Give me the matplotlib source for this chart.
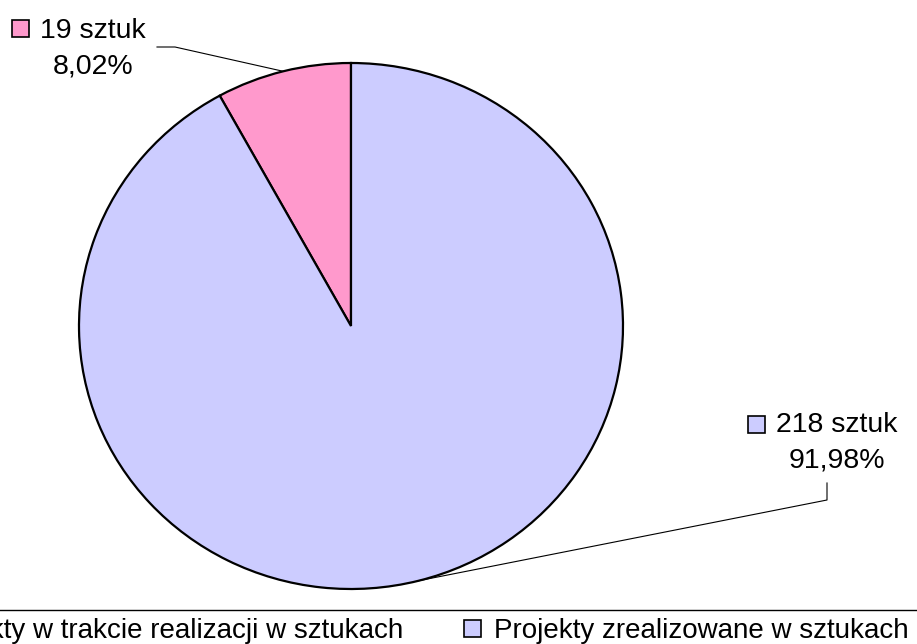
import numpy as np
import matplotlib
matplotlib.use("Agg")
import matplotlib.pyplot as plt
from matplotlib.patches import Rectangle
from matplotlib.lines import Line2D

plt.rcParams['font.family'] = ['Liberation Sans', 'DejaVu Sans']

# dane
kategorie = ["Projekty w trakcie realizacji w sztukach", "Projekty zrealizowane w sztukach"]
sztuki = [19, 218]
procenty = ["8,02%", "91,98%"]
kolory = ["#FF99CC", "#CCCCFF"]

W, H = 917, 644
fig = plt.figure(figsize=(W / 100, H / 100), dpi=100)
ax = fig.add_axes([0, 0, 1, 1])

# srodek kola i promienie w pikselach (kolo lekko splaszczone)
cx, cy, rx, ry = 351, 326, 272, 263

def px(x, y):
    # piksele obrazka -> wspolrzedne danych
    return (x - cx) / rx, (cy - y) / ry

wedges, _ = ax.pie(sztuki, colors=kolory, startangle=90, counterclock=True,
                   wedgeprops=dict(edgecolor="black", linewidth=1.6))
ax.set_aspect('auto')
ax.set_xlim(-cx / rx, (W - cx) / rx)
ax.set_ylim((cy - H) / ry, cy / ry)
ax.axis('off')

# etykiety: srodek tekstu, kwadracik, punkt lamania linii
etyk = [
    dict(tx=93, ty=49, sq=(12, 20), elbow=[(157, 47), (175, 47)]),
    dict(tx=837, ty=443, sq=(748, 416), elbow=[(827, 483), (827, 500)]),
]
for w, n, p, kol, e in zip(wedges, sztuki, procenty, kolory, etyk):
    mid = np.deg2rad((w.theta1 + w.theta2) / 2)
    ex, ey = np.cos(mid), np.sin(mid)
    pts = [px(*q) for q in e["elbow"]] + [(ex, ey)]
    xs, ys = zip(*pts)
    ax.plot(xs, ys, color="black", linewidth=0.8)
    fig.text(e["tx"] / W, 1 - e["ty"] / H, f"{n} sztuk\n{p}", ha="center", va="center",
             fontsize=20.5, linespacing=1.45)
    sx, sy = e["sq"]
    fig.patches.append(Rectangle((sx / W, 1 - (sy + 17) / H), 17 / W, 17 / H,
                                 transform=fig.transFigure, facecolor=kol,
                                 edgecolor="black", linewidth=1.2))

# legenda na dole, ramka wychodzi poza obrazek - widac tylko gorna krawedz
fig.add_artist(Line2D([0, 1], [1 - 610 / H, 1 - 610 / H], color="black",
                      linewidth=1.0, transform=fig.transFigure))
leg = fig.legend(wedges, kategorie, loc="upper center", ncol=2,
                 bbox_to_anchor=(402 / W, 1 - 610 / H), fontsize=20,
                 frameon=False, handlelength=0.6, handleheight=0.6,
                 handletextpad=0.45, columnspacing=2.2, borderpad=0.3,
                 borderaxespad=0)
for h in leg.legend_handles:
    h.set_edgecolor("black")
    h.set_linewidth(1.2)

fig.savefig("out.png", dpi=100)
